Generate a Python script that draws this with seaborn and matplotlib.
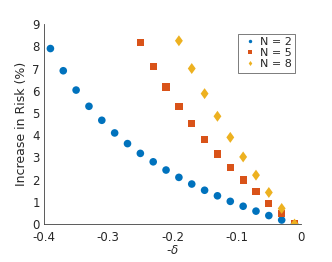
import numpy as np
import pandas as pd
import matplotlib
matplotlib.use("Agg")
import matplotlib.pyplot as plt
from matplotlib.path import Path
import seaborn as sns

# data
delta_n2 = [-0.39, -0.37, -0.35, -0.33, -0.31, -0.29, -0.27, -0.25, -0.23, -0.21,
            -0.19, -0.17, -0.15, -0.13, -0.11, -0.09, -0.07, -0.05, -0.03, -0.01]
risk_n2 = [7.9, 6.9, 6.03, 5.3, 4.67, 4.1, 3.62, 3.18, 2.8, 2.43,
           2.1, 1.8, 1.52, 1.27, 1.02, 0.8, 0.58, 0.38, 0.18, 0.0]
delta_n5 = [-0.25, -0.23, -0.21, -0.19, -0.17, -0.15, -0.13, -0.11, -0.09, -0.07,
            -0.05, -0.03, -0.01]
risk_n5 = [8.17, 7.1, 6.17, 5.3, 4.53, 3.82, 3.15, 2.55, 1.98, 1.45, 0.93, 0.47, 0.0]
delta_n8 = [-0.19, -0.17, -0.15, -0.13, -0.11, -0.09, -0.07, -0.05, -0.03, -0.01]
risk_n8 = [8.25, 7.0, 5.87, 4.85, 3.9, 3.02, 2.2, 1.42, 0.7, 0.0]

labels = ["N = 2", "N = 5", "N = 8"]
colors = ["#0072BD", "#D95319", "#EDB120"]

# MATLAB-like diamond: a bit narrower than tall
diamond = Path([(0, 1), (0.72, 0), (0, -1), (-0.72, 0), (0, 1)],
               [Path.MOVETO, Path.LINETO, Path.LINETO, Path.LINETO, Path.CLOSEPOLY])
markers = ["o", "s", diamond]
marker_sizes = {labels[0]: 30, labels[1]: 27, labels[2]: 62}

df = pd.concat([
    pd.DataFrame({"delta": delta_n2, "risk": risk_n2, "N": labels[0]}),
    pd.DataFrame({"delta": delta_n5, "risk": risk_n5, "N": labels[1]}),
    pd.DataFrame({"delta": delta_n8, "risk": risk_n8, "N": labels[2]}),
])

sns.set_style("white")
plt.rcParams["font.family"] = ["DejaVu Sans"]
grey = "#404040"

fig = plt.figure(figsize=(3.32, 2.62), dpi=100)
ax = fig.add_axes([0.1325, 0.145, 0.774, 0.763])

sns.scatterplot(data=df, x="delta", y="risk", hue="N", style="N", size="N",
                palette=colors, markers=markers, sizes=marker_sizes,
                linewidth=0, ax=ax, legend=True)

ax.set_xlim(-0.4, 0)
ax.set_ylim(0, 9)
ax.set_xticks([-0.4, -0.3, -0.2, -0.1, 0])
ax.set_xticklabels(["-0.4", "-0.3", "-0.2", "-0.1", "0"])
ax.set_yticks(range(10))
ax.tick_params(direction="in", length=3, width=0.6, colors=grey,
               labelsize=8.5, labelcolor="#262626")
ax.tick_params(axis="x", pad=5)
ax.tick_params(axis="y", pad=3)
for side in ["top", "right"]:
    ax.spines[side].set_visible(False)
for side in ["left", "bottom"]:
    ax.spines[side].set_color(grey)
    ax.spines[side].set_linewidth(0.6)

ax.set_xlabel(r"-$\delta$", fontsize=8.5, color="#262626", labelpad=0)
ax.set_ylabel("Increase in Risk (%)", fontsize=9, color="#262626", labelpad=3)

leg = ax.legend(loc="upper right", fontsize=8, markerscale=0.45,
                frameon=True, fancybox=False, handletextpad=0.2,
                borderpad=0.3, labelspacing=0.1, handlelength=1.5,
                bbox_to_anchor=(1.0, 0.98))
leg.get_frame().set_edgecolor(grey)
leg.get_frame().set_linewidth(0.6)

fig.savefig("out.png", dpi=100)
